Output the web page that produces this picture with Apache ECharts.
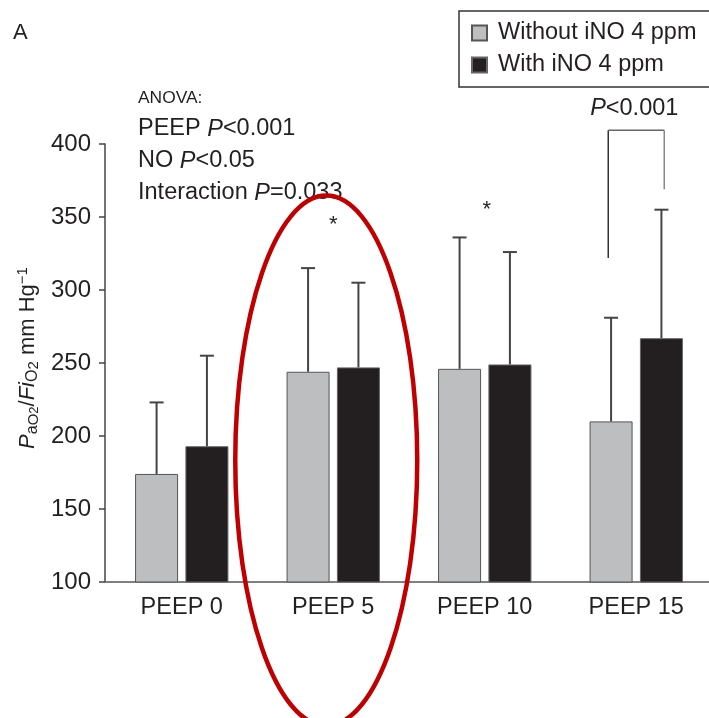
<!DOCTYPE html>
<html>
<head>
<meta charset="utf-8">
<script src="https://cdn.jsdelivr.net/npm/echarts@6/dist/echarts.min.js"></script>
<style>
  html, body { margin: 0; padding: 0; background: #fff; }
  #chart { width: 709px; height: 718px; }
</style>
</head>
<body>
<div id="chart"></div>
<script>
const categories = ['PEEP 0', 'PEEP 5', 'PEEP 10', 'PEEP 15'];
const withoutMean = [174, 244, 246, 210];
const withoutSD = [49, 71, 90, 71];
const withMean = [193, 247, 249, 267];
const withSD = [62, 58, 77, 88];
const yTicks = [100, 150, 200, 250, 300, 350, 400];
const starAt = [[1, 348], [2, 358]];

const FONT = '"Liberation Sans", Arial, sans-serif';
const INK = '#231f20';
const BAR_FRAC = 0.284;
const GAP_FRAC = 0.17;
const FS = 23.5;

// error bars: one custom series per group, shifted onto its bar
function errorSeries(mean, sd, side) {
    return {
        type: 'custom',
        z: 5,
        data: mean.map((m, i) => [i, m, m + sd[i]]),
        renderItem(params, api) {
            const band = api.size([1, 0])[0];
            const bw = band * BAR_FRAC;
            const off = side * (bw + bw * GAP_FRAC) / 2;
            const lo = api.coord([api.value(0), api.value(1)]);
            const hi = api.coord([api.value(0), api.value(2)]);
            const x = lo[0] + off;
            const st = { stroke: '#444', lineWidth: 2 };
            return {
                type: 'group',
                children: [
                    { type: 'line', shape: { x1: x, y1: lo[1], x2: x, y2: hi[1] }, style: st },
                    { type: 'line', shape: { x1: x - 7, y1: hi[1], x2: x + 7, y2: hi[1] }, style: st }
                ]
            };
        }
    };
}

const rich = {
    n: { fontSize: FS, fontFamily: FONT, fill: INK },
    i: { fontSize: FS, fontFamily: FONT, fontStyle: 'italic', fill: INK }
};

const chart = echarts.init(document.getElementById('chart'));
chart.setOption({
    animation: false,
    textStyle: { fontFamily: FONT, color: INK },
    grid: { left: 106, right: -3, top: 144, bottom: 136, outerBoundsMode: 'none', containLabel: false },
    legend: {
        orient: 'vertical',
        left: 459, top: 11,
        padding: [10, 20, 10, 12],
        itemGap: 8,
        itemWidth: 15, itemHeight: 15,
        icon: 'rect',
        borderColor: '#333', borderWidth: 1.5,
        textStyle: { fontSize: FS, color: INK, fontFamily: FONT, lineHeight: 23, padding: [0, 0, 0, 6] },
        data: ['Without iNO 4 ppm', 'With iNO 4 ppm']
    },
    xAxis: {
        type: 'category',
        data: categories,
        axisLine: { lineStyle: { color: '#555', width: 1.5 } },
        axisTick: { show: false },
        axisLabel: { fontSize: FS, color: INK, margin: 14, fontFamily: FONT }
    },
    yAxis: {
        type: 'value',
        offset: 1,
        min: yTicks[0], max: yTicks[yTicks.length - 1], interval: 50,
        splitLine: { show: false },
        axisLine: { show: true, lineStyle: { color: '#444', width: 1.5 } },
        axisTick: { show: true, length: 6, lineStyle: { color: '#444', width: 1.5 } },
        axisLabel: { fontSize: 24, color: INK, margin: 14, fontFamily: FONT }
    },
    series: [
        {
            name: 'Without iNO 4 ppm', type: 'bar',
            barWidth: (BAR_FRAC * 100) + '%', barGap: (GAP_FRAC * 100) + '%',
            itemStyle: { color: '#bcbec0', borderColor: '#555', borderWidth: 1 },
            data: withoutMean
        },
        {
            name: 'With iNO 4 ppm', type: 'bar',
            barWidth: (BAR_FRAC * 100) + '%', barGap: (GAP_FRAC * 100) + '%',
            itemStyle: { color: '#231f20', borderColor: '#666', borderWidth: 1 },
            data: withMean
        },
        errorSeries(withoutMean, withoutSD, -1),
        errorSeries(withMean, withSD, 1)
    ]
});

// annotations placed through the axes
const px = (c, v) => chart.convertToPixel({ gridIndex: 0 }, [c, v]);
const b15L = px(3, 322), b15R = px(3, 369), b15T = px(3, 409.5);
const graphics = [
    { type: 'text', left: 13, top: 22, style: { text: 'A', font: '22px ' + FONT, fill: INK } },
    {
        type: 'text', x: 138, y: 98,
        style: { text: 'ANOVA:', font: '17.4px ' + FONT, fill: INK, verticalAlign: 'middle' }
    },
    { type: 'text', x: 138, y: 129, style: { text: '{n|PEEP }{i|P}{n|<0.001}', verticalAlign: 'middle', rich } },
    { type: 'text', x: 138, y: 161, style: { text: '{n|NO }{i|P}{n|<0.05}', verticalAlign: 'middle', rich } },
    { type: 'text', x: 138, y: 193, style: { text: '{n|Interaction }{i|P}{n|=0.033}', verticalAlign: 'middle', rich } },
    {
        type: 'text', x: 28, y: 358, rotation: Math.PI / 2,
        style: {
            text: '{i|P}{s|a}{ss|O}{s2|2}{n|/}{i|Fi}{s|O}{s1|2}{n| mm Hg}{sup|−1}',
            align: 'center', verticalAlign: 'middle',
            rich: {
                n: { fontSize: 22, fontFamily: FONT, fill: INK, lineHeight: 26 },
                i: { fontSize: 22, fontFamily: FONT, fill: INK, fontStyle: 'italic', lineHeight: 26 },
                s: { fontSize: 16, fontFamily: FONT, fill: INK, lineHeight: 14, verticalAlign: 'bottom' },
                ss: { fontSize: 15, fontFamily: FONT, fill: INK, lineHeight: 6, verticalAlign: 'bottom' },
                s1: { fontSize: 15, fontFamily: FONT, fill: INK, lineHeight: 10, verticalAlign: 'bottom' },
                s2: { fontSize: 13, fontFamily: FONT, fill: INK, lineHeight: 2, verticalAlign: 'bottom' },
                sup: { fontSize: 15, fontFamily: FONT, fill: INK, lineHeight: 14, verticalAlign: 'top' }
            }
        }
    },
    // P<0.001 bracket over PEEP 15
    { type: 'line', shape: { x1: b15L[0] - 28, y1: b15L[1], x2: b15L[0] - 28, y2: b15T[1] }, style: { stroke: '#333', lineWidth: 1.5 } },
    { type: 'line', shape: { x1: b15L[0] - 28, y1: b15T[1], x2: b15L[0] + 28, y2: b15T[1] }, style: { stroke: '#666', lineWidth: 1.5 } },
    { type: 'line', shape: { x1: b15R[0] + 28, y1: b15T[1], x2: b15R[0] + 28, y2: b15R[1] }, style: { stroke: '#888', lineWidth: 1.5 } },
    { type: 'text', x: b15T[0] - 2, y: b15T[1] - 22, style: { text: '{i|P}{n|<0.001}', align: 'center', verticalAlign: 'middle', rich } }
];
starAt.forEach(([c, v], k) => {
    const p = px(c, v);
    graphics.push({ type: 'text', x: p[0] + (k ? 2 : 0), y: p[1] + 5, style: { text: '*', font: '22px ' + FONT, fill: INK, align: 'center', verticalAlign: 'middle' } });
});
// red highlight ellipse around PEEP 5
const e5 = px(1, 190);
graphics.push({
    type: 'ellipse', z: 100,
    shape: { cx: e5[0] - 7, cy: e5[1] + 10, rx: 91, ry: 265 },
    style: { fill: 'none', stroke: '#c00000', lineWidth: 4.5 }
});
chart.setOption({ graphic: graphics });
</script>
</body>
</html>
